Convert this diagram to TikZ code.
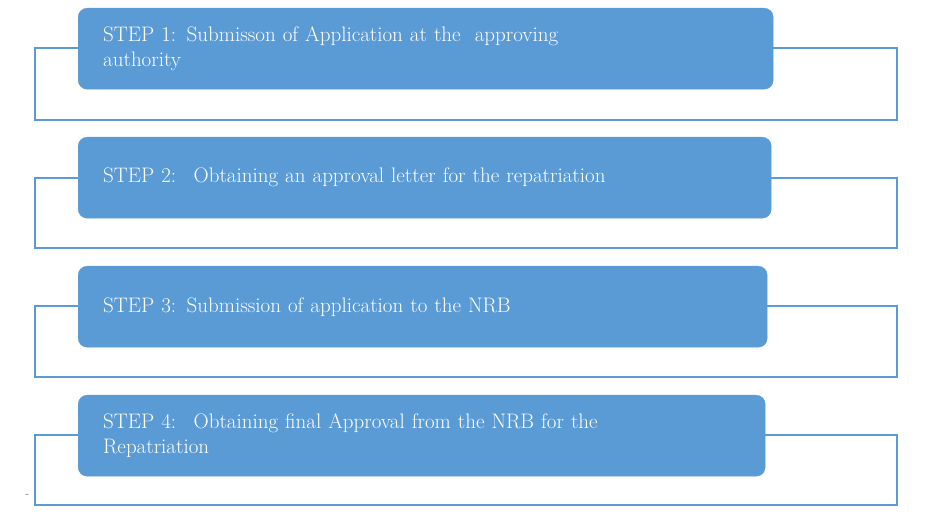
\documentclass[tikz,border=0pt]{standalone}
\usepackage{tikz}
\definecolor{stepblue}{HTML}{5B9BD5}
\begin{document}
\begin{tikzpicture}[x=1pt,y=-1pt,
  stepbox/.style={draw=stepblue, fill=stepblue, rounded corners=9pt, text=white,
    anchor=north west, minimum height=81pt, inner xsep=25pt, align=left,
    font=\fontsize{21}{25}\selectfont},
  bracket/.style={draw=stepblue, line width=1.2pt}]
\useasboundingbox (0,0) rectangle (929,518);
%----------------------------------------------------------
	% Steps
	%------------------------------------------------------
	\node[stepbox, text width=645pt] (S1) at (78,8) {STEP 1: Submisson of Application at the \ approving\\authority};
	\node[stepbox, text width=643pt] (S2) at (78,137) {STEP 2: \ Obtaining an approval letter for the repatriation};
	\node[stepbox, text width=639pt] (S3) at (78,266) {STEP 3: Submission of application to the NRB};
	\node[stepbox, text width=637pt] (S4) at (78,395) {STEP 4: \ Obtaining final Approval from the NRB for the\\Repatriation};

	%Brackets
	%------------------------------------------------------
	\foreach \s/\t/\b in {S1/48/120, S2/178/248, S3/306/377, S4/435/505}{
		\coordinate (L) at (35,\t);
		\coordinate (R) at (897,\t);
		\draw[bracket] (\s.west |- L) -- (L) -- (35,\b) -- (897,\b) -- (R) -- (\s.east |- R);
	}

	\node[font=\scriptsize] (caret) at (27,497) {\textasciicircum};
\end{tikzpicture}
\end{document}
